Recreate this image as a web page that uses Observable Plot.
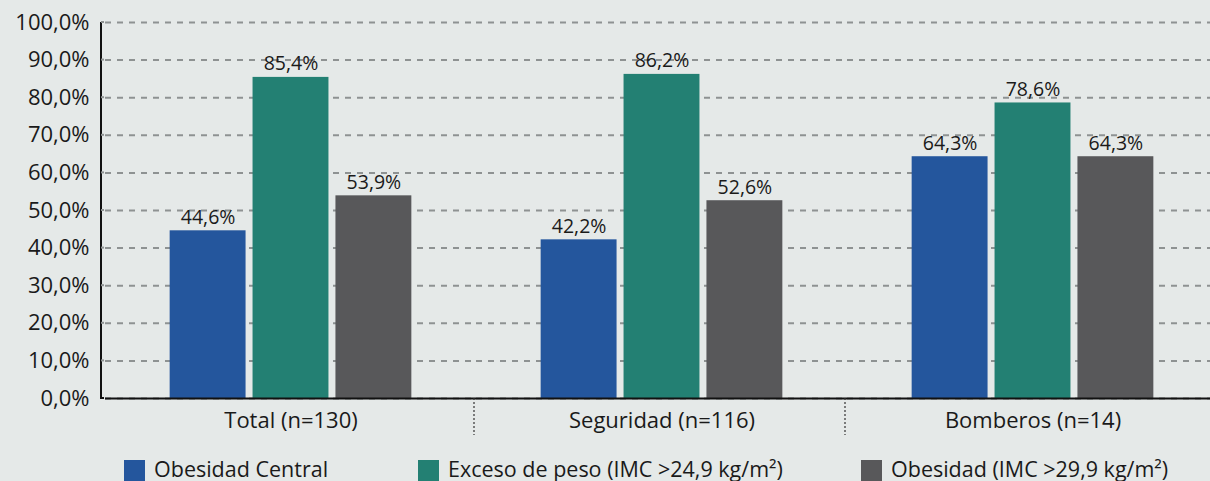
<!DOCTYPE html>
<html>
<head>
<meta charset="utf-8">
<script src="https://cdn.jsdelivr.net/npm/d3@7"></script>
<script src="https://cdn.jsdelivr.net/npm/@observablehq/plot@0.6"></script>
<style>
  html, body { margin: 0; padding: 0; overflow: hidden; background: #e5e9e8; width: 1210px; height: 481px; }
  #chart { position: relative; width: 1210px; height: 440px; overflow: hidden; }
  #legend { position: relative; height: 41px; font-family: "Open Sans", sans-serif; font-size: 21.5px; color: #1a1a1a; }
  .item { position: absolute; top: 20px; display: flex; align-items: flex-start; white-space: nowrap; }
  .sw { width: 21px; height: 21px; margin-right: 9px; }
  .lbl { line-height: 21px; margin-top: -2px; }
</style>
</head>
<body>
<div id="chart"></div>
<div id="legend"></div>
<script>
const categories = ["Total (n=130)", "Seguridad (n=116)", "Bomberos (n=14)"];
const seriesNames = ["Obesidad Central", "Exceso de peso (IMC >24,9 kg/m²)", "Obesidad (IMC >29,9 kg/m²)"];
const obesidadCentral = [44.6, 42.2, 64.3];
const excesoPeso = [85.4, 86.2, 78.6];
const obesidad = [53.9, 52.6, 64.3];
const yTicks = [0, 10, 20, 30, 40, 50, 60, 70, 80, 90, 100];
const colors = ["#24569d", "#238073", "#58585a"];
const legendLeft = [124, 418, 861];

const seriesValues = [obesidadCentral, excesoPeso, obesidad];
const data = [];
categories.forEach((c, i) => seriesNames.forEach((s, j) => data.push({cat: c, series: s, value: seriesValues[j][i]})));

const fmt = d => d.toFixed(1).replace(".", ",") + "%";
const ML = 104;

const chart = Plot.plot({
  width: 1218,
  height: 440,
  marginLeft: ML,
  marginRight: 0,
  marginTop: 22,
  marginBottom: 42,
  style: {background: "transparent", fontFamily: "'Open Sans', sans-serif", fontSize: "22px", color: "#1a1a1a", overflow: "visible", maxWidth: "none"},
  fx: {domain: categories, padding: 0, label: null, axis: "bottom", tickSize: 0, tickPadding: 14},
  x: {domain: seriesNames, paddingInner: 0.0843, paddingOuter: 0.78, round: false, axis: null},
  y: {domain: [0, 100], ticks: yTicks, tickFormat: fmt, tickSize: 0, tickPadding: 16, label: null},
  color: {domain: seriesNames, range: colors},
  marks: [
    Plot.gridY(yTicks, {stroke: "#8e9292", strokeOpacity: 1, strokeWidth: 2, strokeDasharray: "6,6"}),
    Plot.barY(data, {fx: "cat", x: "series", y: "value", fill: "series"}),
    Plot.ruleY([0], {stroke: "#111", strokeWidth: 2}),
    Plot.text(data, {fx: "cat", x: "series", y: "value", text: d => fmt(d.value), lineAnchor: "bottom", dy: -7, fontSize: 19.5, fill: "#1a1a1a"})
  ]
});
chart.style.maxWidth = "none";
document.getElementById("chart").appendChild(chart);

// y axis line and group separators, positioned from the library's scales
const svg = d3.select(chart);
const ys = chart.scale("y");
const fxs = chart.scale("fx");
const y0 = ys.apply(0), y100 = ys.apply(100);
const axisX = ML - 3;
svg.append("line")
  .attr("x1", axisX).attr("x2", axisX)
  .attr("y1", y100).attr("y2", y0 + 1)
  .attr("stroke", "#111").attr("stroke-width", 2);
svg.append("line")
  .attr("x1", axisX).attr("x2", ML)
  .attr("y1", y0).attr("y2", y0)
  .attr("stroke", "#111").attr("stroke-width", 2);
yTicks.slice(1).forEach(t => {
  svg.append("line")
    .attr("x1", axisX).attr("x2", ML)
    .attr("y1", ys.apply(t)).attr("y2", ys.apply(t))
    .attr("stroke", "#8e9292").attr("stroke-width", 2);
});
categories.slice(1).forEach(c => {
  const xs = fxs.apply(c) - 2;
  svg.append("line")
    .attr("x1", xs).attr("x2", xs)
    .attr("y1", y0).attr("y2", y0 + 37)
    .attr("stroke", "#333").attr("stroke-width", 1.2).attr("stroke-dasharray", "2,2");
});

const legend = d3.select("#legend");
seriesNames.forEach((s, i) => {
  const it = legend.append("div").attr("class", "item").style("left", legendLeft[i] + "px");
  it.append("div").attr("class", "sw").style("background", colors[i]);
  it.append("div").attr("class", "lbl").text(s);
});
</script>
</body>
</html>
